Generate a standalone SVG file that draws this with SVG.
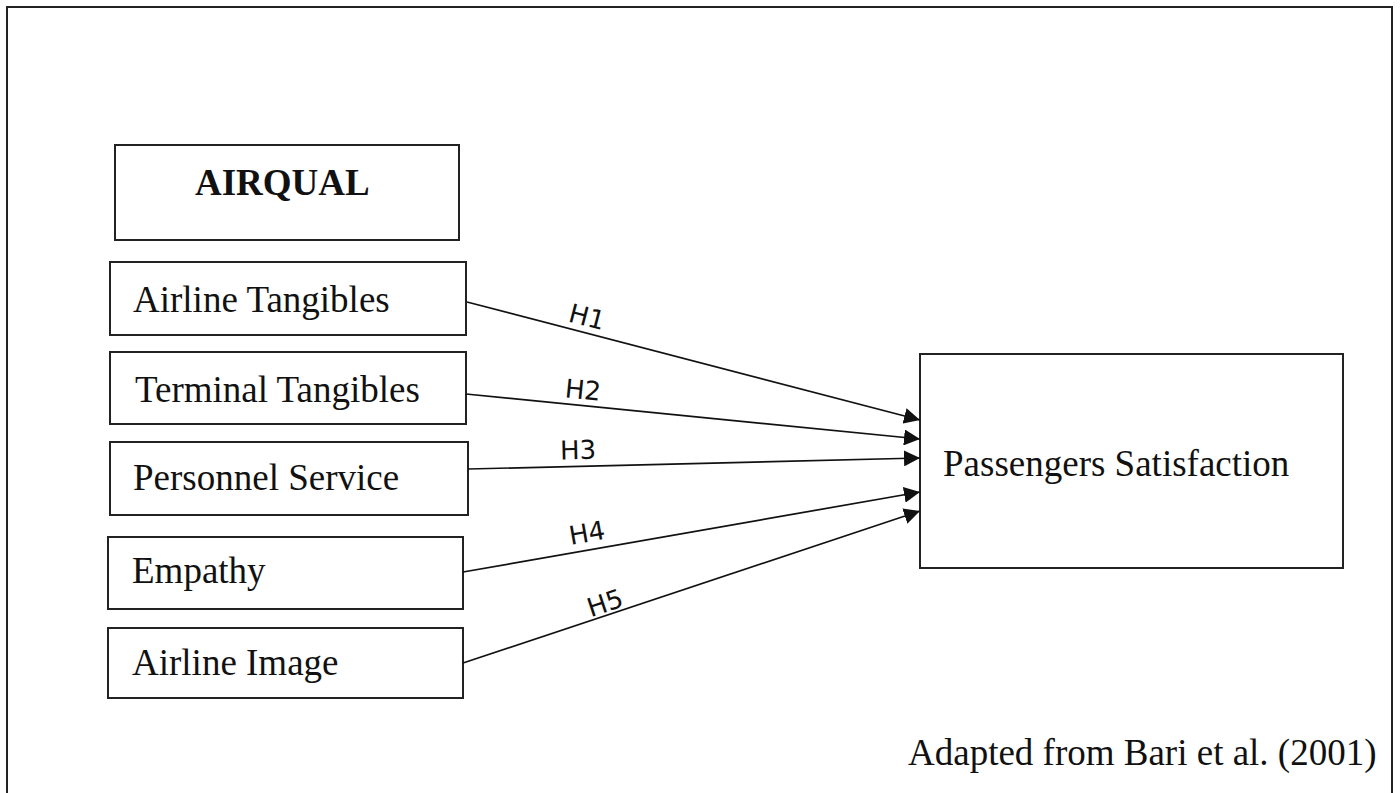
<svg xmlns="http://www.w3.org/2000/svg" width="1400" height="793" viewBox="0 0 1400 793">
  <style>
    .box { fill: #ffffff; stroke: #222222; stroke-width: 2; }
    .lbl { font-family: "Liberation Serif", "Times New Roman", serif; font-size: 37px; fill: #111111; }
    .bold { font-weight: bold; }
    .edge { stroke: #111111; stroke-width: 1.7; fill: none; marker-end: url(#arrow); }
    .hyp { font-family: "DejaVu Sans", "Liberation Sans", sans-serif; font-size: 26px; fill: #111111; text-anchor: middle; }
  </style>
  <defs>
    <marker id="arrow" markerUnits="userSpaceOnUse" markerWidth="18" markerHeight="16" refX="16" refY="8" orient="auto">
      <path d="M0,0 L16,8 L0,16 z" fill="#111111"/>
    </marker>
  </defs>

  <rect width="1400" height="793" fill="#ffffff"/>

  <!-- outer frame, open at the bottom edge -->
  <path d="M7,800 L7,7 L1392,7 L1392,800" fill="none" stroke="#222222" stroke-width="2"/>

  <g id="airqual">
    <rect class="box" x="115" y="145" width="344" height="95"/>
    <text class="lbl bold" x="195" y="195">AIRQUAL</text>
  </g>

  <g id="airline-tangibles">
    <rect class="box" x="110" y="262" width="356" height="73"/>
    <text class="lbl" x="133" y="312">Airline Tangibles</text>
  </g>

  <g id="terminal-tangibles">
    <rect class="box" x="110" y="352" width="356" height="72"/>
    <text class="lbl" x="135" y="402">Terminal Tangibles</text>
  </g>

  <g id="personnel-service">
    <rect class="box" x="110" y="442" width="358" height="73"/>
    <text class="lbl" x="133" y="490">Personnel Service</text>
  </g>

  <g id="empathy">
    <rect class="box" x="108" y="537" width="355" height="72"/>
    <text class="lbl" x="132" y="583">Empathy</text>
  </g>

  <g id="airline-image">
    <rect class="box" x="108" y="628" width="355" height="70"/>
    <text class="lbl" x="132" y="675">Airline Image</text>
  </g>

  <g id="passengers-satisfaction">
    <rect class="box" x="920" y="354" width="423" height="214"/>
    <text class="lbl" x="943" y="476">Passengers Satisfaction</text>
  </g>

  <g id="connectors">
    <line class="edge" x1="467" y1="302" x2="920" y2="420"/>
    <line class="edge" x1="466" y1="394" x2="920" y2="439"/>
    <line class="edge" x1="468" y1="469" x2="920" y2="458"/>
    <line class="edge" x1="463" y1="572" x2="920" y2="492"/>
    <line class="edge" x1="463" y1="663" x2="920" y2="511"/>
    <text class="hyp" transform="translate(587,317) rotate(14.6)" y="9">H1</text>
    <text class="hyp" transform="translate(583,390) rotate(5.7)" y="9">H2</text>
    <text class="hyp" transform="translate(578,450) rotate(-1.4)" y="9">H3</text>
    <text class="hyp" transform="translate(587,533) rotate(-9.9)" y="9">H4</text>
    <text class="hyp" transform="translate(605,603) rotate(-18.4)" y="9">H5</text>
  </g>

  <text id="source-note" class="lbl" x="908" y="765">Adapted from Bari et al. (2001)</text>
</svg>
